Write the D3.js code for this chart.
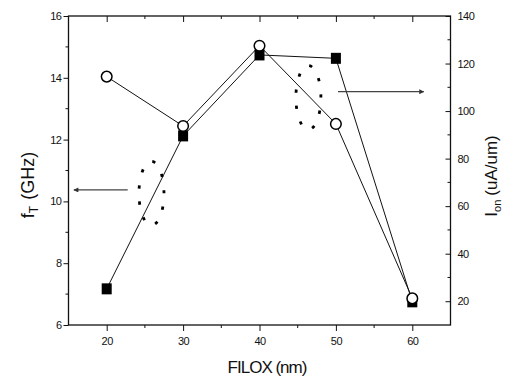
<!DOCTYPE html>
<html>
<head>
<meta charset="utf-8">
<script src="https://cdn.jsdelivr.net/npm/d3@7"></script>
<style>
  body { margin: 0; background: #fff; }
  text { font-family: "Liberation Sans", Arial, sans-serif; fill: #111; }
</style>
</head>
<body>
<div id="chart"></div>
<script>
// FILOX (nm) on the x axis
const filox = [20, 30, 40, 50, 60];
// filled squares -> left axis, f_T (GHz)
const fT = [7.17, 12.12, 14.74, 14.63, 6.75];
// open circles -> right axis, I_on (uA/um)
const ion = [114.5, 93.7, 127.5, 94.6, 21.2];

const xTicks = [20, 30, 40, 50, 60];
const leftTicks = [6, 8, 10, 12, 14, 16];
const rightTicks = [20, 40, 60, 80, 100, 120, 140];

const W = 505, H = 376;
const m = { left: 68.5, right: 54.5, top: 16, bottom: 51 };

const svg = d3.select('#chart').append('svg')
    .attr('width', W)
    .attr('height', H);

const x = d3.scaleLinear().domain([15, 65]).range([m.left, W - m.right]);
const yL = d3.scaleLinear().domain([6, 16]).range([H - m.bottom, m.top]);
const yR = d3.scaleLinear().domain([10, 140]).range([H - m.bottom, m.top]);

const x0 = m.left, x1 = W - m.right, y0 = H - m.bottom, y1 = m.top;

// minor tick helper
function minor(g, pts, horiz, len) {
    g.selectAll('line.minor').data(pts).join('line')
        .attr('class', 'minor')
        .attr('stroke', '#111')
        .attr('x1', d => horiz ? d : 0).attr('x2', d => horiz ? d : len)
        .attr('y1', d => horiz ? 0 : d).attr('y2', d => horiz ? len : d);
}

function styleAxis(g) {
    g.select('.domain').remove();
    g.selectAll('.tick line').attr('stroke', '#111').attr('stroke-width', 1);
    g.selectAll('.tick text')
        .attr('font-size', 11)
        .attr('letter-spacing', '-0.5px')
        .attr('fill', '#111');
}

// bottom
const gB = svg.append('g').attr('transform', `translate(0,${y0})`)
    .call(d3.axisBottom(x).tickValues(xTicks).tickSize(6).tickPadding(6));
styleAxis(gB);
minor(gB, [25, 35, 45, 55].map(x), true, 3);

// top (ticks inward, no labels)
const gT = svg.append('g').attr('transform', `translate(0,${y1})`)
    .call(d3.axisTop(x).tickValues(xTicks).tickSize(-6).tickFormat(''));
styleAxis(gT);
minor(gT, [25, 35, 45, 55].map(x), true, 3);

// left
const gL = svg.append('g').attr('transform', `translate(${x0},0)`)
    .call(d3.axisLeft(yL).tickValues(leftTicks).tickSize(5).tickPadding(2));
styleAxis(gL);
minor(gL, [7, 9, 11, 13, 15].map(yL), false, -3);

// right (ticks inward)
const gR = svg.append('g').attr('transform', `translate(${x1},0)`)
    .call(d3.axisRight(yR).tickValues(rightTicks).tickSize(-5).tickPadding(7));
styleAxis(gR);
minor(gR, [30, 50, 70, 90, 110, 130].map(yR), false, -3);

// frame
svg.append('rect')
    .attr('x', x0).attr('y', y1)
    .attr('width', x1 - x0).attr('height', y0 - y1)
    .attr('fill', 'none')
    .attr('stroke', '#111')
    .attr('stroke-width', 1.3);

// series lines
const lineL = d3.line().x((d, i) => x(filox[i])).y(d => yL(d));
const lineR = d3.line().x((d, i) => x(filox[i])).y(d => yR(d));

svg.append('path').datum(fT)
    .attr('d', lineL)
    .attr('fill', 'none').attr('stroke', '#111').attr('stroke-width', 1);
svg.append('path').datum(ion)
    .attr('d', lineR)
    .attr('fill', 'none').attr('stroke', '#111').attr('stroke-width', 1);

// markers: squares then circles on top
svg.append('g').selectAll('rect').data(fT).join('rect')
    .attr('x', (d, i) => x(filox[i]) - 5)
    .attr('y', d => yL(d) - 5.5)
    .attr('width', 10).attr('height', 11)
    .attr('fill', '#000');

svg.append('g').selectAll('circle').data(ion).join('circle')
    .attr('cx', (d, i) => x(filox[i]))
    .attr('cy', d => yR(d))
    .attr('r', 5.3)
    .attr('fill', '#fff')
    .attr('stroke', '#000')
    .attr('stroke-width', 1.5);

// dotted ellipses marking which curve belongs to which axis
const rings = [[25.86, 10.26], [46.4, 13.36]];
svg.append('g').selectAll('ellipse').data(rings).join('ellipse')
    .attr('cx', d => x(d[0]))
    .attr('cy', d => yL(d[1]))
    .attr('rx', 12.5)
    .attr('ry', 32)
    .attr('fill', 'none')
    .attr('stroke', '#000')
    .attr('stroke-width', 2.8)
    .attr('pathLength', 90)
    .attr('stroke-dasharray', '2 8')
    .attr('stroke-dashoffset', 2);

// arrows
const defs = svg.append('defs');
defs.append('marker')
    .attr('id', 'head')
    .attr('viewBox', '0 0 10 10')
    .attr('refX', 9).attr('refY', 5)
    .attr('markerWidth', 7).attr('markerHeight', 5)
    .attr('markerUnits', 'userSpaceOnUse')
    .attr('orient', 'auto')
    .append('path').attr('d', 'M0,0L10,5L0,10Z').attr('fill', '#333');

const arrows = [[22.75, 15.7, 10.37], [50.27, 61.5, 13.55]];
svg.append('g').selectAll('line').data(arrows).join('line')
    .attr('x1', d => x(d[0])).attr('x2', d => x(d[1]))
    .attr('y1', d => yL(d[2])).attr('y2', d => yL(d[2]))
    .attr('stroke', '#444')
    .attr('stroke-width', 1.2)
    .attr('marker-end', 'url(#head)');

// axis titles
svg.append('text')
    .attr('x', 267).attr('y', 373)
    .attr('text-anchor', 'middle')
    .attr('font-size', 17)
    .attr('letter-spacing', '-1px')
    .text('FILOX (nm)');

const lt = svg.append('text')
    .attr('transform', 'translate(34,185) rotate(-90)')
    .attr('text-anchor', 'middle')
    .attr('font-size', 18);
lt.append('tspan').text('f');
lt.append('tspan').attr('dy', 4).attr('font-size', 12).text('T');
lt.append('tspan').attr('dy', -4).attr('dx', 6).text('(GHz)');

const rt = svg.append('text')
    .attr('transform', 'translate(497,176) rotate(-90)')
    .attr('text-anchor', 'middle')
    .attr('font-size', 17);
rt.append('tspan').text('I');
rt.append('tspan').attr('dy', 4).attr('font-size', 11).text('on');
rt.append('tspan').attr('dy', -4).attr('dx', 4).text('(uA/um)');
</script>
</body>
</html>
